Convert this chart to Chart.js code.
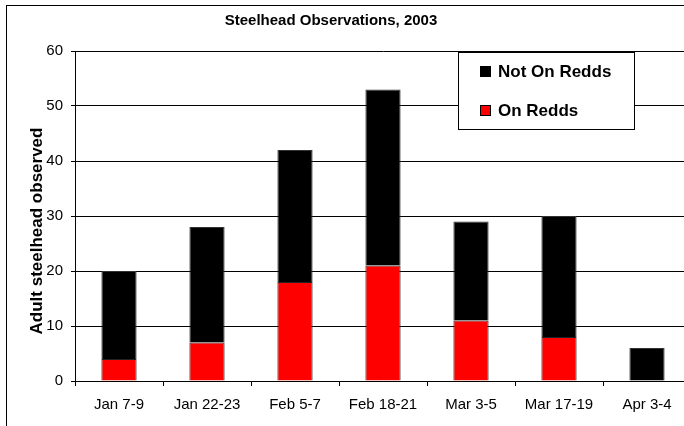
<!DOCTYPE html>
<html>
<head>
<meta charset="utf-8">
<script src="https://cdn.jsdelivr.net/npm/chart.js@4"></script>
<style>
  html, body { margin: 0; padding: 0; background: #fff; overflow: hidden; }
  #frame { position: absolute; left: 6px; top: 5px; width: 760px; height: 480px;
           border-left: 1px solid #000; border-top: 1px solid #000; }
  #chart { position: absolute; left: 0; top: 0; }
</style>
</head>
<body>
<div id="frame"></div>
<canvas id="chart" width="700" height="426"></canvas>
<script>
const FONT = "'Liberation Sans', Arial, sans-serif";

const periods = ["Jan 7-9", "Jan 22-23", "Feb 5-7", "Feb 18-21", "Mar 3-5", "Mar 17-19", "Apr 3-4"];
const onRedds = [4, 7, 18, 21, 11, 8, 0];
const notOnRedds = [16, 21, 24, 32, 18, 22, 6];
const yTicks = [0, 10, 20, 30, 40, 50, 60];

// titles and boxed legend drawn on top of the plot
const overlay = {
  id: 'overlay',
  afterDraw(chart) {
    const ctx = chart.ctx;
    ctx.save();
    ctx.fillStyle = '#000';
    ctx.font = 'bold 15px ' + FONT;
    ctx.textAlign = 'center';
    ctx.textBaseline = 'middle';
    ctx.fillText('Steelhead Observations, 2003', 331, 21);

    // y axis title, rotated
    ctx.save();
    ctx.translate(37, 231);
    ctx.rotate(-Math.PI / 2);
    ctx.font = 'bold 17px ' + FONT;
    ctx.fillText('Adult steelhead observed', 0, 0);
    ctx.restore();

    // legend box
    const bx = 458.5, by = 52.5, bw = 176, bh = 77;
    ctx.fillStyle = '#fff';
    ctx.fillRect(bx, by, bw, bh);
    ctx.strokeStyle = '#000';
    ctx.lineWidth = 1;
    ctx.strokeRect(bx, by, bw, bh);

    const items = chart.data.datasets.slice().reverse();
    ctx.font = 'bold 17px ' + FONT;
    ctx.textAlign = 'left';
    items.forEach((ds, i) => {
      const cy = 72 + i * 39;
      ctx.fillStyle = ds.backgroundColor;
      ctx.fillRect(480, cy - 6, 11, 11);
      ctx.strokeStyle = '#000';
      ctx.strokeRect(480.5, cy - 5.5, 10, 10);
      ctx.fillStyle = '#000';
      ctx.fillText(ds.label, 498, cy);
    });
    ctx.restore();
  }
};

new Chart(document.getElementById('chart'), {
  type: 'bar',
  data: {
    labels: periods,
    datasets: [
      {
        label: 'On Redds',
        data: onRedds,
        backgroundColor: '#ff0000',
        borderColor: '#222',
        borderWidth: 1
      },
      {
        label: 'Not On Redds',
        data: notOnRedds,
        backgroundColor: '#000000',
        borderColor: '#333',
        borderWidth: 1
      }
    ]
  },
  options: {
    responsive: false,
    animation: false,
    layout: { padding: { left: 0, top: 51, right: 9, bottom: 0 } },
    plugins: {
      legend: { display: false },
      title: { display: false },
      tooltip: { enabled: false }
    },
    datasets: {
      bar: { categoryPercentage: 1, barPercentage: 0.4 }
    },
    scales: {
      x: {
        stacked: true,
        afterFit(scale) { scale.height = 45; },
        grid: { offset: true, drawOnChartArea: false, drawTicks: true, tickLength: 5, color: '#000' },
        border: { display: true, color: '#000', width: 1 },
        ticks: { color: '#000', padding: 10, maxRotation: 0, font: { family: FONT, size: 15 } }
      },
      y: {
        stacked: true,
        min: 0,
        max: 60,
        afterFit(scale) { scale.width = 75; },
        afterBuildTicks(scale) { scale.ticks = yTicks.map(v => ({ value: v })); },
        grid: { color: '#000', lineWidth: 1, tickLength: 4, drawTicks: true },
        border: { display: true, color: '#000', width: 1 },
        ticks: { color: '#000', padding: 8, font: { family: FONT, size: 15 } }
      }
    }
  },
  plugins: [overlay]
});
</script>
</body>
</html>
